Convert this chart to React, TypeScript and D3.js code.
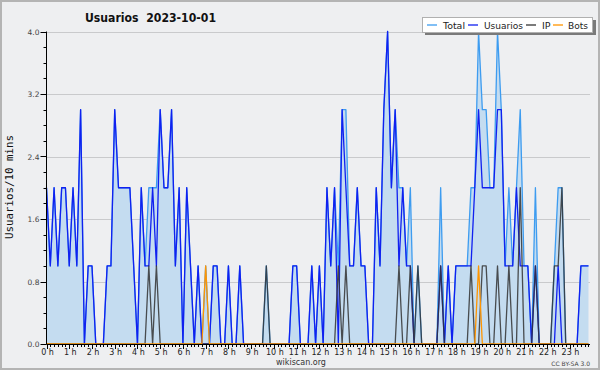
import React, { useRef, useEffect } from "react";
import * as d3 from "d3";

// 10-minute slots, 144 per day (12 per row = 2 hours)
const usuarios = [
  2, 1, 2, 1, 2, 2, 1, 2, 1, 3, 0, 1,
  1, 0, 0, 0, 1, 1, 3, 2, 2, 2, 2, 1,
  0, 2, 1, 1, 2, 1, 3, 2, 2, 3, 1, 2,
  0, 2, 1, 0, 1, 0, 0, 0, 1, 1, 0, 0,
  1, 0, 0, 1, 0, 0, 0, 0, 0, 0, 0, 0,
  0, 0, 0, 0, 0, 1, 1, 0, 0, 0, 1, 0,
  1, 0, 2, 1, 2, 0, 3, 2, 1, 1, 2, 1,
  1, 0, 0, 2, 1, 3, 4, 2, 3, 1, 2, 1,
  1, 0, 0, 0, 0, 0, 0, 0, 1, 0, 1, 0,
  1, 1, 1, 1, 1, 2, 3, 2, 2, 2, 2, 3,
  3, 1, 1, 1, 2, 1, 1, 1, 0, 1, 0, 0,
  0, 0, 0, 1, 0, 0, 0, 0, 0, 1, 1, 1,
];

const ip = [
  0, 0, 0, 0, 0, 0, 0, 0, 0, 0, 0, 0,
  0, 0, 0, 0, 0, 0, 0, 0, 0, 0, 0, 0,
  0, 0, 0, 1, 0, 1, 0, 0, 0, 0, 0, 0,
  0, 0, 0, 0, 0, 0, 0, 0, 0, 0, 0, 0,
  0, 0, 0, 0, 0, 0, 0, 0, 0, 0, 1, 0,
  0, 0, 0, 0, 0, 0, 0, 0, 0, 0, 0, 0,
  0, 0, 0, 0, 0, 1, 0, 1, 0, 0, 0, 0,
  0, 0, 0, 0, 0, 0, 0, 0, 0, 1, 0, 0,
  1, 0, 1, 0, 0, 0, 0, 0, 1, 0, 0, 0,
  0, 0, 0, 0, 1, 0, 0, 1, 1, 0, 0, 1,
  0, 0, 1, 0, 0, 2, 0, 0, 0, 1, 0, 0,
  0, 0, 1, 1, 2, 0, 0, 0, 0, 0, 0, 0,
];

const bots = [
  0, 0, 0, 0, 0, 0, 0, 0, 0, 0, 0, 0,
  0, 0, 0, 0, 0, 0, 0, 0, 0, 0, 0, 0,
  0, 0, 0, 0, 0, 0, 0, 0, 0, 0, 0, 0,
  0, 0, 0, 0, 0, 0, 1, 0, 0, 0, 0, 0,
  0, 0, 0, 0, 0, 0, 0, 0, 0, 0, 0, 0,
  0, 0, 0, 0, 0, 0, 0, 0, 0, 0, 0, 0,
  0, 0, 0, 0, 0, 0, 0, 0, 0, 0, 0, 0,
  0, 0, 0, 0, 0, 0, 0, 0, 0, 0, 0, 0,
  0, 0, 0, 0, 0, 0, 0, 0, 0, 0, 0, 0,
  0, 0, 0, 0, 0, 0, 1, 0, 0, 0, 0, 0,
  0, 0, 0, 0, 0, 0, 0, 0, 0, 0, 0, 0,
  0, 0, 0, 0, 0, 0, 0, 0, 0, 0, 0, 0,
];

const total = [
  2, 1, 2, 1, 2, 2, 1, 2, 1, 3, 0, 1,
  1, 0, 0, 0, 1, 1, 3, 2, 2, 2, 2, 1,
  0, 2, 1, 2, 2, 2, 3, 2, 2, 3, 1, 2,
  0, 2, 1, 0, 1, 0, 1, 0, 1, 1, 0, 0,
  1, 0, 0, 1, 0, 0, 0, 0, 0, 0, 1, 0,
  0, 0, 0, 0, 0, 1, 1, 0, 0, 0, 1, 0,
  1, 0, 2, 1, 2, 1, 3, 3, 1, 1, 2, 1,
  1, 0, 0, 2, 1, 3, 4, 2, 3, 2, 2, 1,
  2, 0, 1, 0, 0, 0, 0, 0, 2, 0, 1, 0,
  1, 1, 1, 1, 2, 2, 4, 3, 3, 2, 2, 4,
  3, 1, 2, 1, 2, 3, 1, 1, 0, 2, 0, 0,
  0, 0, 1, 2, 2, 0, 0, 0, 0, 1, 1, 1,
];

const hourLabels = d3.range(24).map(h => `${h} h`);
const yTicks = [0, 0.8, 1.6, 2.4, 3.2, 4.0];

const legendItems = [
  { name: "Total", color: "#3d9cf0" },
  { name: "Usuarios", color: "#1020f0" },
  { name: "IP", color: "#333333" },
  { name: "Bots", color: "#ff9500" },
];

const W = 600;
const H = 370;
const font = "'DejaVu Sans', Verdana, sans-serif";

export default function App() {
  const svgRef = useRef<SVGSVGElement | null>(null);

  useEffect(() => {
    const svg = d3.select(svgRef.current);
    svg.selectAll("*").remove();

    const left = 46.5, right = 590, top = 31.5, bottom = 344;
    const x = d3.scaleLinear().domain([0, 144]).range([left, left + 144 * 3.79]);
    const y = d3.scaleLinear().domain([0, 4]).range([bottom, top]);

    // background + frame
    svg.append("rect").attr("width", W).attr("height", H).attr("fill", "#eeeff1");
    svg.append("rect").attr("x", 1).attr("y", 1).attr("width", W - 2).attr("height", H - 2)
      .attr("fill", "none").attr("stroke", "#b4b4b4").attr("stroke-width", 2);

    // grid
    svg.append("g").selectAll("line").data(yTicks.slice(1)).join("line")
      .attr("x1", left).attr("x2", right)
      .attr("y1", d => Math.round(y(d)) + 0.5).attr("y2", d => Math.round(y(d)) + 0.5)
      .attr("stroke", "#c9cacc").attr("stroke-width", 1);

    const idx = d3.range(144);

    // area under total
    const area = d3.area<number>().x(i => x(i)).y0(y(0)).y1(i => y(total[i]));
    svg.append("path").attr("d", area(idx)).attr("fill", "#c4dcf0");

    const series = [total, usuarios, ip, bots];
    series.forEach((vals, k) => {
      const line = d3.line<number>().x(i => x(i)).y(i => y(vals[i]));
      svg.append("path").attr("d", line(idx)).attr("fill", "none")
        .attr("stroke", legendItems[k].color).attr("stroke-width", 1.3)
        .attr("stroke-linejoin", "round").attr("opacity", k === 2 ? 0.85 : 1);
    });

    // y axis
    const ya = svg.append("g");
    ya.append("line").attr("x1", left).attr("x2", left).attr("y1", top).attr("y2", bottom)
      .attr("stroke", "#000");
    ya.selectAll("line.minor").data(d3.range(0, 4.01, 0.2)).join("line")
      .attr("class", "minor")
      .attr("x1", d => (yTicks.some(t => Math.abs(t - d) < 1e-6) ? left - 6 : left - 3))
      .attr("x2", left)
      .attr("y1", d => Math.round(y(d)) + 0.5).attr("y2", d => Math.round(y(d)) + 0.5)
      .attr("stroke", "#000");
    ya.selectAll("text").data(yTicks).join("text")
      .attr("x", left - 7).attr("y", d => y(d) + 3)
      .attr("text-anchor", "end").attr("fill", "#444")
      .style("font-family", font).style("font-size", "7.5px")
      .text(d => d.toFixed(1));

    // x axis
    const xa = svg.append("g");
    xa.append("line").attr("x1", left).attr("x2", right).attr("y1", bottom + 0.5).attr("y2", bottom + 0.5)
      .attr("stroke", "#000");
    xa.selectAll("line.tick").data(d3.range(0, 144)).join("line")
      .attr("class", "tick")
      .attr("x1", d => Math.round(x(d)) + 0.5).attr("x2", d => Math.round(x(d)) + 0.5)
      .attr("y1", bottom).attr("y2", d => (d % 6 === 0 ? bottom + 5 : bottom + 3))
      .attr("stroke", "#000");
    xa.selectAll("text").data(hourLabels).join("text")
      .attr("x", (d, i) => x(i * 6) + 1).attr("y", bottom + 11)
      .attr("text-anchor", "middle").attr("fill", "#222")
      .style("font-family", font).style("font-size", "8px")
      .text(d => d);

    // titles
    svg.append("text").attr("x", 85).attr("y", 22)
      .attr("textLength", 131).attr("lengthAdjust", "spacingAndGlyphs")
      .style("font-family", font).style("font-size", "13px").style("font-weight", "bold")
      .style("white-space", "pre").attr("fill", "#111")
      .text("Usuarios  2023-10-01");

    svg.append("text").attr("transform", "translate(13,187) rotate(-90)")
      .attr("text-anchor", "middle").attr("textLength", 104).attr("lengthAdjust", "spacingAndGlyphs")
      .style("font-family", "'DejaVu Sans Mono', monospace").style("font-size", "10px")
      .attr("fill", "#111").text("Usuarios/10 mins");

    svg.append("text").attr("x", 301).attr("y", 365).attr("text-anchor", "middle")
      .style("font-family", font).style("font-size", "8px").attr("fill", "#333")
      .text("wikiscan.org");
    svg.append("text").attr("x", 590).attr("y", 366).attr("text-anchor", "end")
      .style("font-family", font).style("font-size", "6px").attr("fill", "#444")
      .text("CC BY-SA 3.0");

    // legend
    const lg = svg.append("g");
    lg.append("rect").attr("x", 425).attr("y", 20).attr("width", 171).attr("height", 15).attr("fill", "#7a7a7a");
    lg.append("rect").attr("x", 422.5).attr("y", 17.5).attr("width", 170).attr("height", 15)
      .attr("fill", "#fff").attr("stroke", "#b0b0b0");
    const lx = [427, 468, 526, 553];
    const tx = [443, 484, 542, 568];
    const tw = [22, 39, 0, 20];
    legendItems.forEach((it, k) => {
      lg.append("line").attr("x1", lx[k]).attr("x2", lx[k] + 10).attr("y1", 25).attr("y2", 25)
        .attr("stroke", it.color).attr("stroke-width", 1.3);
      const t = lg.append("text").attr("x", tx[k]).attr("y", 28.5)
        .style("font-family", font).style("font-size", "9.5px").attr("fill", "#222")
        .text(it.name);
      if (tw[k]) t.attr("textLength", tw[k]).attr("lengthAdjust", "spacingAndGlyphs");
    });
  }, []);

  return (
    <div style={{ position: "absolute", left: 0, top: 0 }}>
      <svg ref={svgRef} width={W} height={H} style={{ display: "block" }} />
    </div>
  );
}
